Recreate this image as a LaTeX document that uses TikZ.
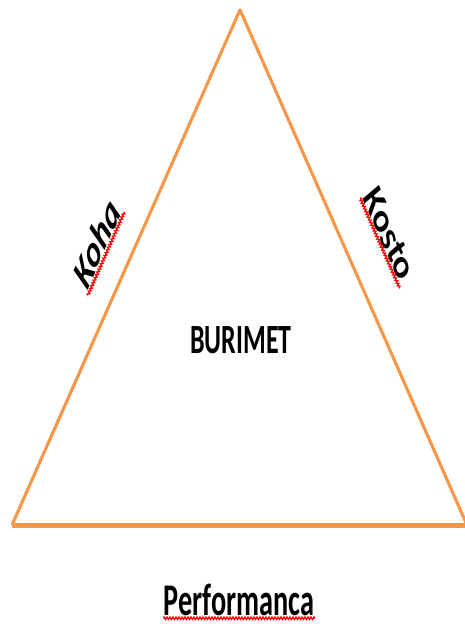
\documentclass[tikz,border=0pt]{standalone}
\usepackage{fontspec}
\setmainfont{Carlito}
\usetikzlibrary{decorations.pathmorphing}
\definecolor{triorange}{HTML}{F79646}
\begin{document}
\begin{tikzpicture}[x=1pt,y=1pt,
  side/.style={draw=triorange,line width=3.1pt,line join=round},
  basestroke/.style={draw=triorange,line width=5pt},
  lbl/.style={transform shape,inner sep=1.5pt,text=black,font=\fontsize{26}{30}\selectfont\bfseries},
  squig/.style={draw=red,line width=1.3pt,decorate,decoration={zigzag,amplitude=1.2pt,segment length=3pt}}]
\begin{scope}[yscale=1.6]
\useasboundingbox (0,0) rectangle (465,391.25);
\coordinate (apex) at (240,385);
\coordinate (bl) at (12,63.1);
\coordinate (br) at (467,63.1);
\draw[side] (bl) -- (apex) -- (br);
\draw[basestroke] (bl) -- (br);
\node[lbl,inner sep=0.3pt,font=\fontsize{28.3}{32}\selectfont\bfseries] (perf) at (239,16.5) {Performanca};
\node[lbl] (burimet) at (241,178.5) {BURIMET};
\node[lbl,rotate=55,font=\fontsize{28.5}{32}\selectfont\bfseries\itshape] (koha) at (96.5,239.5) {Koha};
\node[lbl,rotate=-55,font=\fontsize{28.5}{32}\selectfont\bfseries\itshape] (kosto) at (389,245.5) {Kosto};
\draw[squig] ([yshift=-1.2pt]perf.south west) -- ([yshift=-1.2pt]perf.south east);
\draw[squig] (koha.south west) -- (koha.south east);
\draw[squig] (kosto.south west) -- (kosto.south east);
\end{scope}
\end{tikzpicture}
\end{document}
